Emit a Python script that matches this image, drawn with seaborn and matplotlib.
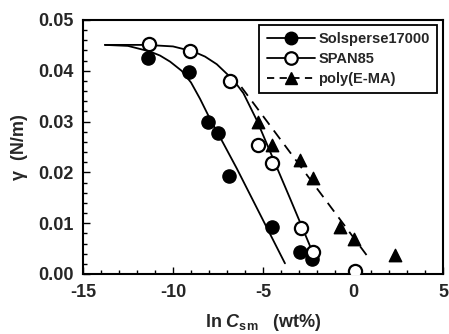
import matplotlib
matplotlib.use("Agg")
import matplotlib.pyplot as plt
import seaborn as sns
import pandas as pd
from matplotlib.lines import Line2D
from matplotlib.ticker import MultipleLocator

# ---- data ----
sol_x = [-11.37, -9.09, -8.04, -7.48, -6.87, -4.52, -2.94, -2.26]
sol_y = [0.0425, 0.0398, 0.0300, 0.0278, 0.0193, 0.0093, 0.0043, 0.0029]

span_x = [-11.32, -9.06, -6.83, -5.26, -4.52, -2.91, -2.21, 0.11]
span_y = [0.0453, 0.0438, 0.0379, 0.0254, 0.0218, 0.0090, 0.0044, 0.0005]

poly_x = [-5.26, -4.52, -2.94, -2.24, -0.72, 0.06, 2.33]
poly_y = [0.0300, 0.0254, 0.0224, 0.0188, 0.0093, 0.0068, 0.0037]

# fitted curves
solfit_x = [-13.78, -12.5, -11.28, -10.72, -10.16, -9.52, -9.0, -8.5, -7.94, -7.2, -6.46, -3.78]
solfit_y = [0.0451, 0.0449, 0.0438, 0.0430, 0.0418, 0.0400, 0.0377, 0.0345, 0.0305, 0.0257, 0.0208, 0.0021]

spanfit_x = [-13.78, -11.5, -10.0, -8.87, -8.22, -7.57, -6.65, -6.09, -5.35, -3.5, -2.02]
spanfit_y = [0.0451, 0.0451, 0.0448, 0.0438, 0.0428, 0.0413, 0.0382, 0.0356, 0.0303, 0.0149, 0.0024]

polyfit_x = [-6.2, 0.76]
polyfit_y = [0.0368, 0.0037]

labels = ["Solsperse17000", "SPAN85", "poly(E-MA)"]
x_ticks = [-15, -10, -5, 0, 5]
y_ticks = [0.00, 0.01, 0.02, 0.03, 0.04, 0.05]

# ---- style ----
sns.set_style("ticks")
plt.rcParams.update({
    "font.family": ["Liberation Sans", "DejaVu Sans"],
    "font.weight": "bold",
    "axes.labelweight": "bold",
    "axes.unicode_minus": False,
    "mathtext.fontset": "custom",
    "mathtext.rm": "Liberation Sans:bold",
    "mathtext.it": "Liberation Sans:italic:bold",
    "mathtext.bf": "Liberation Sans:bold",
})

fig = plt.figure(figsize=(4.49, 3.34), dpi=100)
ax = fig.add_axes([83 / 449, 1 - 274 / 334, 360 / 449, 254 / 334])

# fitted lines
sns.lineplot(x=solfit_x, y=solfit_y, ax=ax, color="black", lw=1.3,
             sort=False, estimator=None)
sns.lineplot(x=spanfit_x, y=spanfit_y, ax=ax, color="black", lw=1.3,
             sort=False, estimator=None)
sns.lineplot(x=polyfit_x, y=polyfit_y, ax=ax, color="black", lw=1.3,
             sort=False, estimator=None, dashes=False, linestyle=(0, (6, 4)))

# data points
ms = 90
sns.scatterplot(x=sol_x, y=sol_y, ax=ax, marker="o", s=ms, color="black",
                edgecolor="black", linewidth=1, zorder=5)
sns.scatterplot(x=span_x, y=span_y, ax=ax, marker="o", s=ms, color="white",
                edgecolor="black", linewidth=1.6, zorder=5)
sns.scatterplot(x=poly_x, y=poly_y, ax=ax, marker="^", s=80, color="black",
                edgecolor="black", linewidth=1, zorder=5)

ax.set_xlim(-15, 5)
ax.set_ylim(0, 0.05)
ax.set_xticks(x_ticks)
ax.set_yticks(y_ticks)
ax.set_xticklabels([str(t) for t in x_ticks])
ax.set_yticklabels([f"{t:.2f}" for t in y_ticks])
ax.xaxis.set_minor_locator(MultipleLocator(1))
ax.yaxis.set_minor_locator(MultipleLocator(0.002))
ax.tick_params(which="both", direction="in", top=False, right=False, width=1.0, color="black")
ax.tick_params(which="major", length=5, labelsize=13, pad=7)
ax.tick_params(which="minor", length=3)
for lab in ax.get_xticklabels() + ax.get_yticklabels():
    lab.set_fontweight("bold")
for sp in ax.spines.values():
    sp.set_visible(True)
    sp.set_linewidth(1.5)
    sp.set_color("black")

ax.set_xlabel(r"ln $C_{\mathrm{sm}}$   (wt%)", fontsize=13, fontweight="bold", labelpad=8)
ax.set_ylabel("γ  (N/m)", fontsize=13, fontweight="bold", labelpad=7)

handles = [
    Line2D([], [], color="black", lw=1.3, marker="o", markersize=9,
           markerfacecolor="black", markeredgecolor="black"),
    Line2D([], [], color="black", lw=1.3, marker="o", markersize=9,
           markerfacecolor="white", markeredgecolor="black", markeredgewidth=1.6),
    Line2D([], [], color="black", lw=1.3, linestyle=(0, (4, 3)), marker="^", markersize=9,
           markerfacecolor="black", markeredgecolor="black"),
]
leg = ax.legend(handles, labels, loc="upper right",
                bbox_to_anchor=((437 - 83) / 360, (274 - 25) / 254),
                borderaxespad=0, frameon=True, fancybox=False, framealpha=1,
                edgecolor="black", handlelength=3.3, handletextpad=0.25,
                labelspacing=0.4, borderpad=0.5,
                prop={"family": "Liberation Sans", "weight": "bold", "size": 10.5})
leg.get_frame().set_linewidth(1.3)

fig.savefig("out.png", dpi=100)
